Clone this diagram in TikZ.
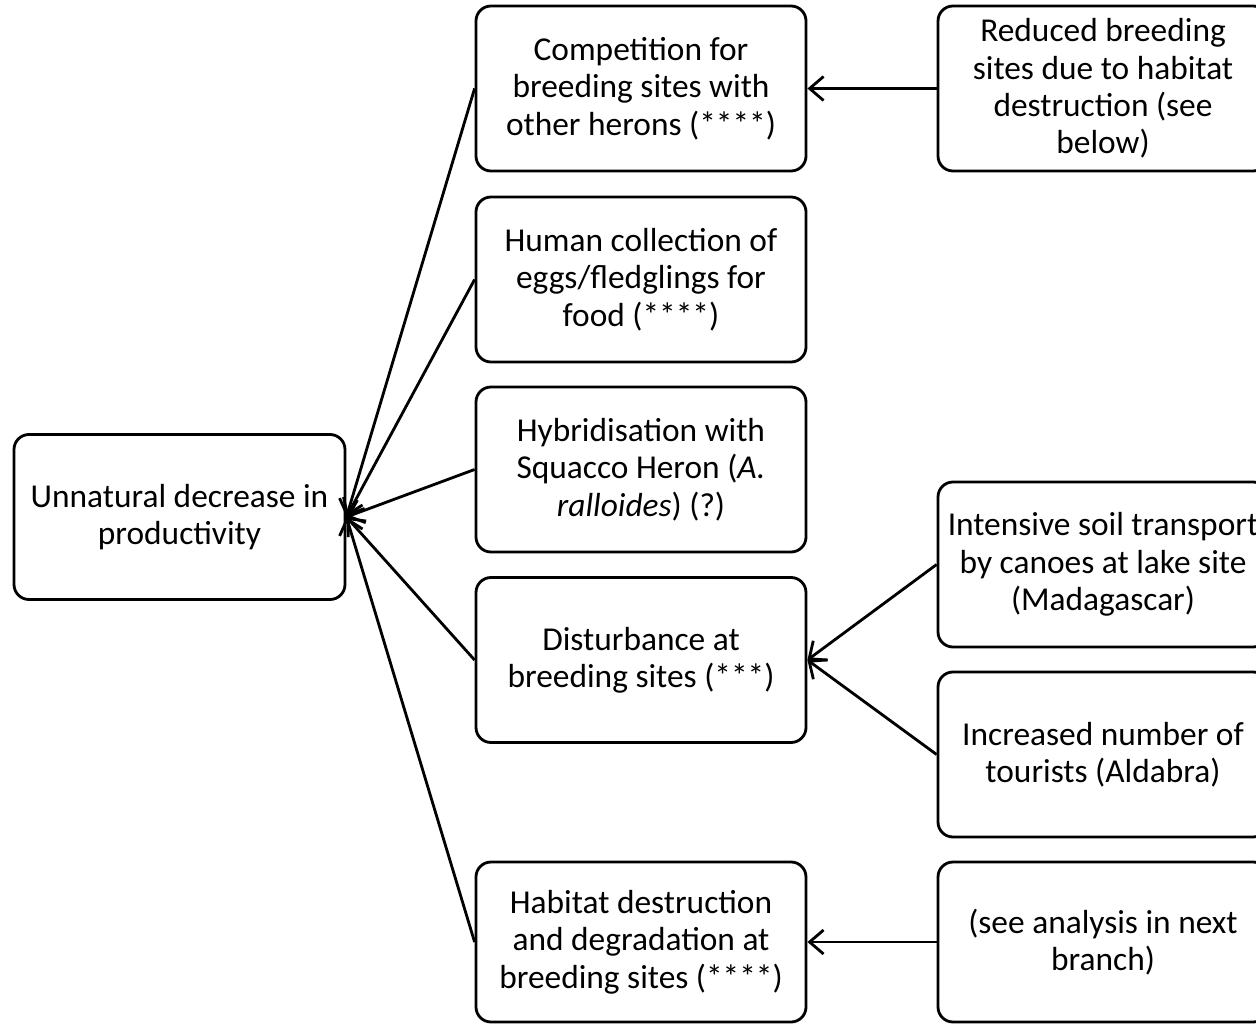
\documentclass[tikz,border=0pt]{standalone}
\usepackage{fontspec}
\setmainfont{Carlito}
\usetikzlibrary{arrows.meta}
\begin{document}
\begin{tikzpicture}[
        box/.style={draw, line width=1.6pt, rounded corners=0.3cm,
            minimum width=6.6cm, minimum height=3.3cm, align=center,
            font=\fontsize{19}{21.3}\selectfont},
        link/.style={line width=1.6pt, -{Straight Barb[length=2.8mm,width=4.8mm]}}
    ]
        % Column positions
        \def\colA{3.59}
        \def\colB{12.82}
        \def\colC{22.06}

        % Page frame (the right column runs off the edge)
        \useasboundingbox (0,0) rectangle (25.12,-20.5);
        \clip (0,0) rectangle (25.12,-20.5);

        % Effect
        \node[box, minimum width=6.62cm] (effect) at (\colA,-10.34) {Unnatural decrease in\\productivity};

        % Direct causes
        \node[box] (compete) at (\colB,-1.77) {Competition for\\breeding sites with\\other herons (****)};
        \node[box] (collect) at (\colB,-5.59) {Human collection of\\eggs/fledglings for\\food (****)};
        \node[box] (hybrid) at (\colB,-9.39) {Hybridisation with\\Squacco Heron (\textit{A.}\\\textit{ralloides}) (?)};
        \node[box] (disturb) at (\colB,-13.2) {Disturbance at\\breeding sites (***)};
        \node[box, minimum height=3.2cm] (habitat) at (\colB,-18.84) {Habitat destruction\\and degradation at\\breeding sites (****)};

        % Underlying causes
        \node[box] (reduced) at (\colC,-1.77) {Reduced breeding\\sites due to habitat\\destruction (see\\below)};
        \node[box] (canoes) at (\colC,-11.29) {Intensive soil transport\\by canoes at lake site\\(Madagascar)};
        \node[box] (tourists) at (\colC,-15.09) {Increased number of\\tourists (Aldabra)};
        \node[box, minimum height=3.2cm] (analysis) at (\colC,-18.84) {(see analysis in next\\branch)};

        % Arrows into the effect
        \draw[link] (compete.west) -- (effect.east);
        \draw[link] (collect.west) -- (effect.east);
        \draw[link] (hybrid.west) -- (effect.east);
        \draw[link] (disturb.west) -- (effect.east);
        \draw[link] (habitat.west) -- (effect.east);

        % Arrows into the direct causes
        \draw[link] (reduced.west) -- (compete.east);
        \draw[link] (canoes.west) -- (disturb.east);
        \draw[link] (tourists.west) -- (disturb.east);
        \draw[link] (analysis.west) -- (habitat.east);
    \end{tikzpicture}
\end{document}
